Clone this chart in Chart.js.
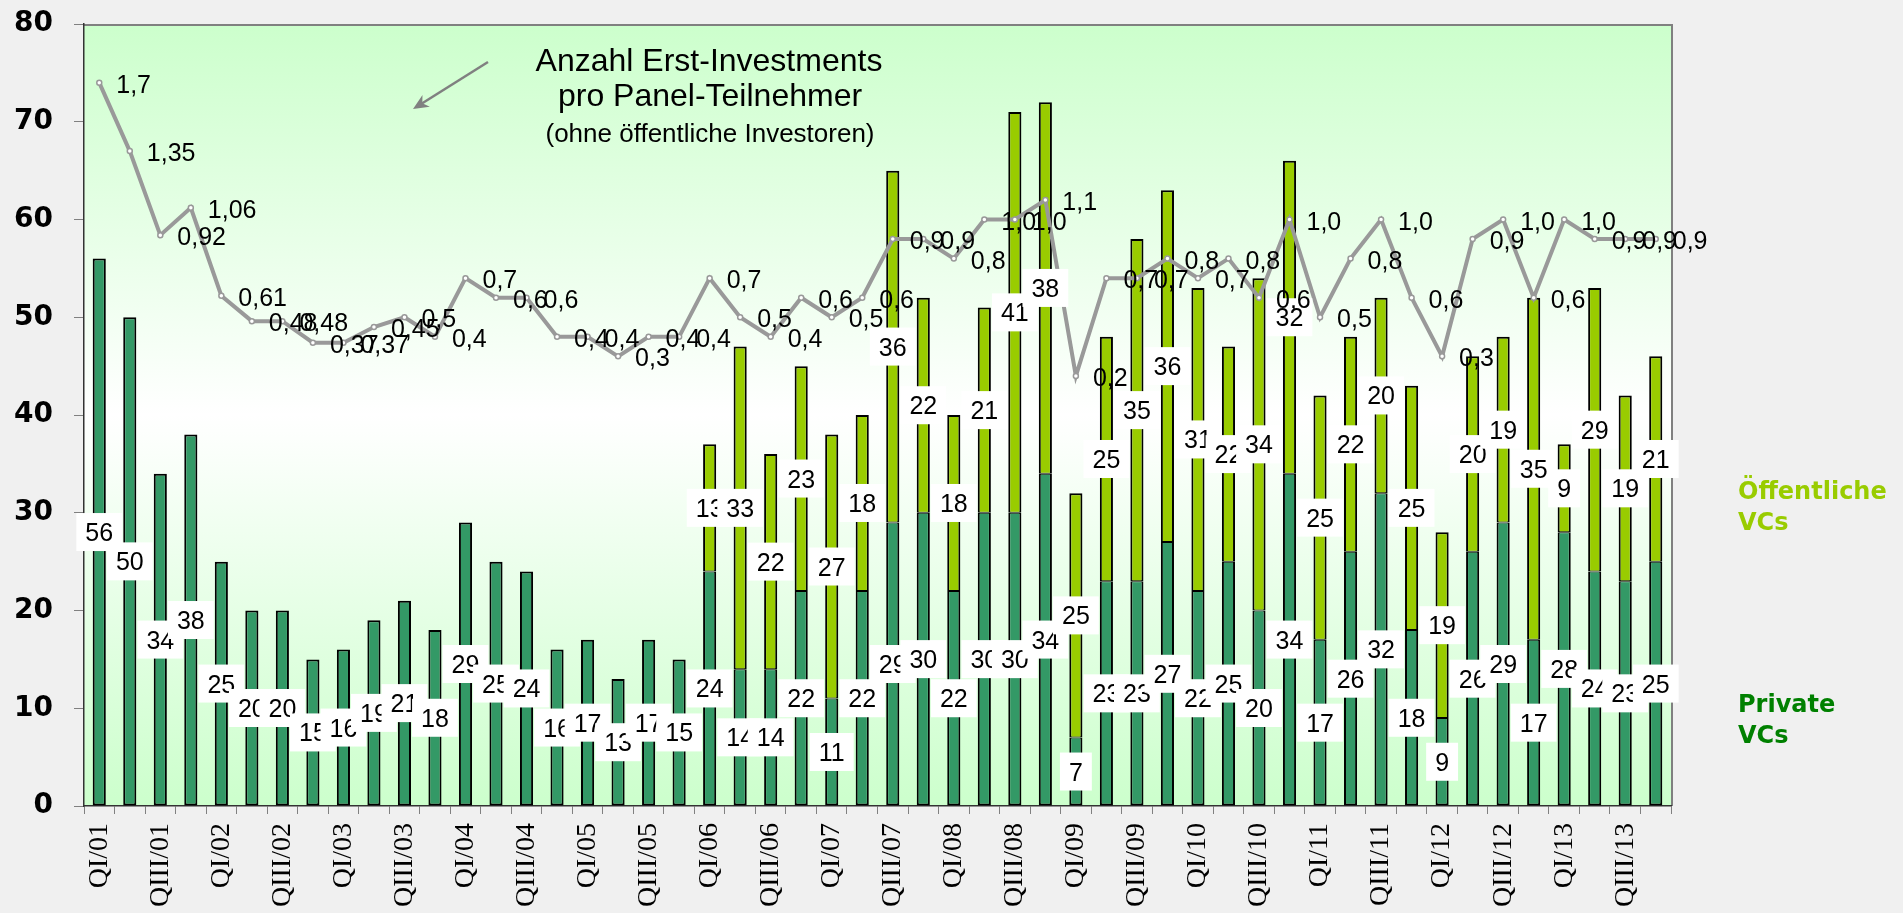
<!DOCTYPE html>
<html lang="de">
<head>
<meta charset="utf-8">
<title>Erst-Investments Private und Öffentliche VCs</title>
<script src="https://cdn.jsdelivr.net/npm/chart.js@4.4.1/dist/chart.umd.min.js"></script>
<style>
  html, body { margin: 0; padding: 0; background: #f0f0f0; overflow: hidden; }
  #wrap { width: 1903px; height: 913px; }
</style>
</head>
<body>
<div id="wrap"><canvas id="chartCanvas" width="1903" height="913"></canvas></div>
<script>
/* ─── Data ─── */
const quarters = [
  'QI/01', 'QII/01', 'QIII/01', 'QIV/01',
  'QI/02', 'QII/02', 'QIII/02', 'QIV/02',
  'QI/03', 'QII/03', 'QIII/03', 'QIV/03',
  'QI/04', 'QII/04', 'QIII/04', 'QIV/04',
  'QI/05', 'QII/05', 'QIII/05', 'QIV/05',
  'QI/06', 'QII/06', 'QIII/06', 'QIV/06',
  'QI/07', 'QII/07', 'QIII/07', 'QIV/07',
  'QI/08', 'QII/08', 'QIII/08', 'QIV/08',
  'QI/09', 'QII/09', 'QIII/09', 'QIV/09',
  'QI/10', 'QII/10', 'QIII/10', 'QIV/10',
  'QI/11', 'QII/11', 'QIII/11', 'QIV/11',
  'QI/12', 'QII/12', 'QIII/12', 'QIV/12',
  'QI/13', 'QII/13', 'QIII/13', 'QIV/13'
];

const privateVCs = [
  56, 50, 34, 38,  25, 20, 20, 15,  16, 19, 21, 18,  29, 25, 24, 16,
  17, 13, 17, 15,  24, 14, 14, 22,  11, 22, 29, 30,  22, 30, 30, 34,
  7, 23, 23, 27,   22, 25, 20, 34,  17, 26, 32, 18,  9, 26, 29, 17,
  28, 24, 23, 25
];

const publicVCs = [
  0, 0, 0, 0,      0, 0, 0, 0,      0, 0, 0, 0,      0, 0, 0, 0,
  0, 0, 0, 0,      13, 33, 22, 23,  27, 18, 36, 22,  18, 21, 41, 38,
  25, 25, 35, 36,  31, 22, 34, 32,  25, 22, 20, 25,  19, 20, 19, 35,
  9, 29, 19, 21
];

// Erst-Investments pro Panel-Teilnehmer (secondary, hidden axis)
const investPerPanel = [
  1.7, 1.35, 0.92, 1.06,  0.61, 0.48, 0.48, 0.37,  0.37, 0.45, 0.5, 0.4,
  0.7, 0.6, 0.6, 0.4,     0.4, 0.3, 0.4, 0.4,      0.7, 0.5, 0.4, 0.6,
  0.5, 0.6, 0.9, 0.9,     0.8, 1.0, 1.0, 1.1,      0.2, 0.7, 0.7, 0.8,
  0.7, 0.8, 0.6, 1.0,     0.5, 0.8, 1.0, 0.6,      0.3, 0.9, 1.0, 0.6,
  1.0, 0.9, 0.9, 0.9
];

const yTicks = [0, 10, 20, 30, 40, 50, 60, 70, 80];

/* ─── Colours / fonts ─── */
const PRIVATE_COLOR = '#339966';
const PUBLIC_COLOR  = '#99cc00';
const LINE_COLOR    = '#999999';
const SANS   = '"Liberation Sans", Arial, sans-serif';
const SERIF  = '"Liberation Serif", "Times New Roman", serif';
const HEAVY  = '"DejaVu Sans", Verdana, sans-serif';

function fmtRatio(v) {
  const tenths = Math.abs(v * 10 - Math.round(v * 10)) < 1e-9;
  return v.toFixed(tenths ? 1 : 2).replace('.', ',');
}

/* ─── Plot background: green → white → green, grey frame ─── */
const plotBackground = {
  id: 'plotBackground',
  beforeDraw(chart) {
    const { ctx, chartArea: a } = chart;
    ctx.save();
    ctx.fillStyle = '#f0f0f0';
    ctx.fillRect(0, 0, chart.width, chart.height);
    const g = ctx.createLinearGradient(0, a.top, 0, a.bottom);
    g.addColorStop(0, '#ccffcc');
    g.addColorStop(0.5, '#ffffff');
    g.addColorStop(1, '#ccffcc');
    ctx.fillStyle = g;
    ctx.fillRect(a.left, a.top, a.right - a.left, a.bottom - a.top);
    ctx.strokeStyle = '#808080';
    ctx.lineWidth = 2;
    ctx.beginPath();
    ctx.moveTo(a.left, a.top + 1);
    ctx.lineTo(a.right + 1, a.top + 1);
    ctx.lineTo(a.right + 1, a.bottom);
    ctx.stroke();
    ctx.restore();
  }
};

/* ─── Value labels (white boxes on bars, plain text on the line) ─── */
const valueLabels = {
  id: 'valueLabels',
  afterDatasetsDraw(chart) {
    const ctx = chart.ctx;
    ctx.save();
    ctx.font = `25px ${SANS}`;
    ctx.textBaseline = 'alphabetic';

    [0, 1].forEach(di => {
      const values = chart.data.datasets[di].data;
      chart.getDatasetMeta(di).data.forEach((bar, i) => {
        const v = values[i];
        if (!v) return;
        const text = String(v);
        const w = ctx.measureText(text).width + 18;
        const h = 38;
        const cy = (bar.y + bar.base) / 2;
        ctx.fillStyle = '#ffffff';
        ctx.fillRect(bar.x - w / 2, cy - h / 2, w, h);
        ctx.fillStyle = '#000000';
        ctx.textAlign = 'center';
        ctx.fillText(text, bar.x, cy + 9);
      });
    });

    chart.getDatasetMeta(2).data.forEach((pt, i) => {
      ctx.fillStyle = '#000000';
      ctx.textAlign = 'left';
      ctx.fillText(fmtRatio(investPerPanel[i]), pt.x + 17, pt.y + 10);
    });
    ctx.restore();
  }
};

/* ─── Annotation, arrow and series names on the right ─── */
const annotations = {
  id: 'annotations',
  afterDraw(chart) {
    const ctx = chart.ctx;
    ctx.save();
    ctx.fillStyle = '#000000';
    ctx.textAlign = 'center';
    ctx.textBaseline = 'alphabetic';
    ctx.font = `32px ${SANS}`;
    ctx.fillText('Anzahl Erst-Investments', 709, 71);
    ctx.fillText('pro Panel-Teilnehmer', 710, 106);
    ctx.font = `26px ${SANS}`;
    ctx.fillText('(ohne öffentliche Investoren)', 710, 142);

    // arrow
    const x0 = 488, y0 = 62, x1 = 413, y1 = 109;
    const ang = Math.atan2(y1 - y0, x1 - x0);
    ctx.strokeStyle = '#808080';
    ctx.fillStyle = '#808080';
    ctx.lineWidth = 2.5;
    ctx.beginPath();
    ctx.moveTo(x0, y0);
    ctx.lineTo(x1 - 10 * Math.cos(ang), y1 - 10 * Math.sin(ang));
    ctx.stroke();
    ctx.beginPath();
    ctx.moveTo(x1, y1);
    ctx.lineTo(x1 - 17 * Math.cos(ang - 0.42), y1 - 17 * Math.sin(ang - 0.42));
    ctx.lineTo(x1 - 11 * Math.cos(ang), y1 - 11 * Math.sin(ang));
    ctx.lineTo(x1 - 17 * Math.cos(ang + 0.42), y1 - 17 * Math.sin(ang + 0.42));
    ctx.closePath();
    ctx.fill();

    // series names
    ctx.textAlign = 'left';
    ctx.font = `bold 24px ${HEAVY}`;
    ctx.fillStyle = PUBLIC_COLOR;
    ctx.fillText('Öffentliche', 1738, 499);
    ctx.fillText('VCs', 1738, 530);
    ctx.fillStyle = '#008000';
    ctx.fillText('Private', 1738, 712);
    ctx.fillText('VCs', 1738, 743);
    ctx.restore();
  }
};

/* ─── Chart ─── */
const ctx = document.getElementById('chartCanvas').getContext('2d');

new Chart(ctx, {
  type: 'bar',
  data: {
    labels: quarters,
    datasets: [
      {
        label: 'Private VCs',
        data: privateVCs,
        backgroundColor: PRIVATE_COLOR,
        borderColor: '#000000',
        borderWidth: c => ({ top: publicVCs[c.dataIndex] ? 1 : 2, bottom: 2, left: 2, right: 2 }),
        borderSkipped: false,
        barPercentage: 0.43,
        categoryPercentage: 1,
        order: 1
      },
      {
        label: 'Öffentliche VCs',
        data: publicVCs.map(v => (v ? v : null)),
        backgroundColor: PUBLIC_COLOR,
        borderColor: '#000000',
        borderWidth: { top: 2, bottom: 1, left: 2, right: 2 },
        borderSkipped: false,
        barPercentage: 0.43,
        categoryPercentage: 1,
        order: 1
      },
      {
        type: 'line',
        label: 'Erst-Investments pro Panel-Teilnehmer',
        data: investPerPanel,
        yAxisID: 'y2',
        borderColor: LINE_COLOR,
        borderWidth: 4,
        tension: 0,
        pointRadius: 2.5,
        pointBackgroundColor: '#ffffff',
        pointBorderColor: LINE_COLOR,
        pointBorderWidth: 1.5,
        order: 0
      }
    ]
  },
  options: {
    responsive: false,
    devicePixelRatio: 1,
    animation: false,
    layout: { padding: { left: 14, right: 232, top: 24, bottom: 0 } },
    plugins: {
      legend: { display: false },
      tooltip: { enabled: false },
      title: { display: false }
    },
    scales: {
      x: {
        stacked: true,
        afterFit: s => { s.height = 107; s.paddingLeft = 0; s.paddingRight = 0; },
        grid: { offset: true, drawOnChartArea: false, color: '#808080', tickLength: 8 },
        border: { color: '#333333', width: 1.5 },
        ticks: {
          autoSkip: false,
          minRotation: 90,
          maxRotation: 90,
          padding: 9,
          color: '#000000',
          font: { family: SERIF, size: 28 },
          callback: (v, i) => (i % 2 === 0 ? quarters[i] : '')
        }
      },
      y: {
        stacked: true,
        min: yTicks[0],
        max: yTicks[yTicks.length - 1],
        afterBuildTicks: s => { s.ticks = yTicks.map(v => ({ value: v })); },
        afterFit: s => { s.width = 70; s.paddingTop = 0; s.paddingBottom = 0; },
        grid: { drawOnChartArea: false, color: '#808080', tickLength: 10 },
        border: { color: '#333333', width: 1.5 },
        ticks: {
          padding: 21,
          color: '#000000',
          font: { family: HEAVY, size: 28, weight: 'bold' }
        }
      },
      y2: {
        display: false,
        min: -2,
        max: 2
      }
    }
  },
  plugins: [plotBackground, valueLabels, annotations]
});
</script>
</body>
</html>
